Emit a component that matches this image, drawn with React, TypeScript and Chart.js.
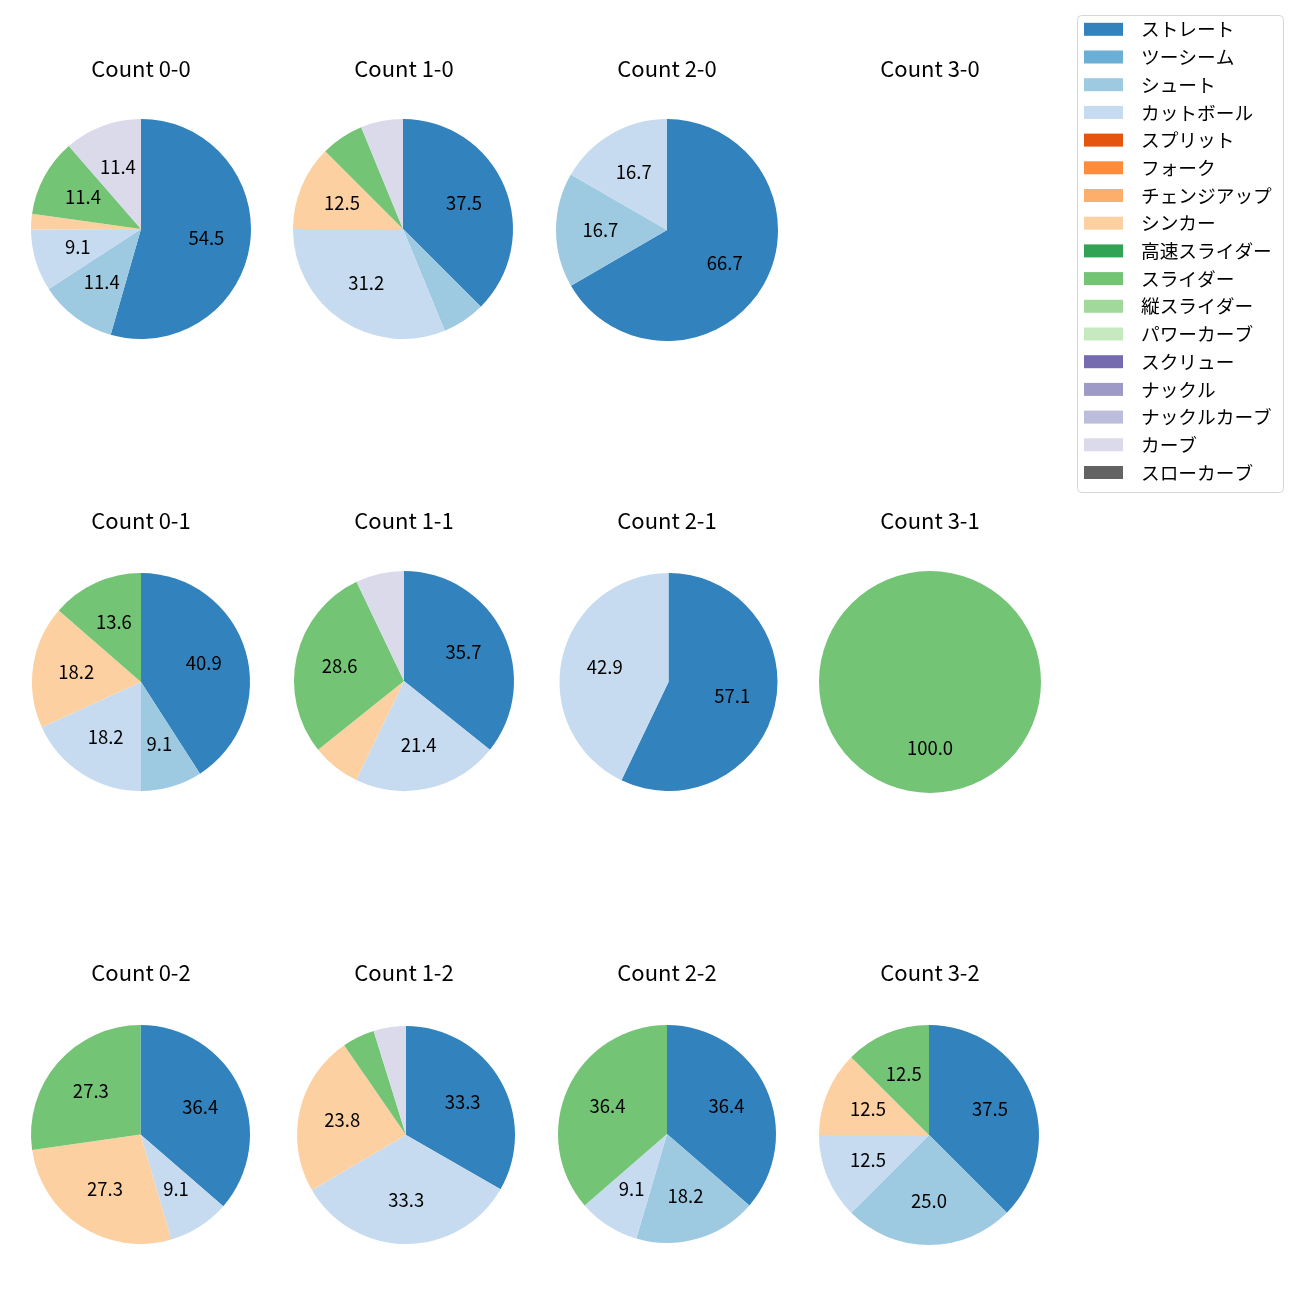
import React, { useEffect, useRef } from "react";
import { Chart, registerables } from "chart.js";

Chart.register(...registerables);

const pitchTypes = [
  "ストレート", "ツーシーム", "シュート", "カットボール", "スプリット", "フォーク",
  "チェンジアップ", "シンカー", "高速スライダー", "スライダー", "縦スライダー",
  "パワーカーブ", "スクリュー", "ナックル", "ナックルカーブ", "カーブ", "スローカーブ",
];
const pitchColors = [
  "#3182bd", "#6baed6", "#9ecae1", "#c6dbef", "#e6550d", "#fd8d3c",
  "#fdae6b", "#fdd0a2", "#31a354", "#74c476", "#a1d99b",
  "#c7e9c0", "#756bb1", "#9e9ac8", "#bcbddc", "#dadaeb", "#636363",
];

// percentages per pitch type (same order as pitchTypes)
const count00 = [54.5, 0, 11.4, 9.1, 0, 0, 0, 2.3, 0, 11.4, 0, 0, 0, 0, 0, 11.4, 0];
const count10 = [37.5, 0, 6.3, 31.2, 0, 0, 0, 12.5, 0, 6.3, 0, 0, 0, 0, 0, 6.2, 0];
const count20 = [66.7, 0, 16.7, 16.7, 0, 0, 0, 0, 0, 0, 0, 0, 0, 0, 0, 0, 0];
const count30 = [0, 0, 0, 0, 0, 0, 0, 0, 0, 0, 0, 0, 0, 0, 0, 0, 0];
const count01 = [40.9, 0, 9.1, 18.2, 0, 0, 0, 18.2, 0, 13.6, 0, 0, 0, 0, 0, 0, 0];
const count11 = [35.7, 0, 0, 21.4, 0, 0, 0, 7.1, 0, 28.6, 0, 0, 0, 0, 0, 7.1, 0];
const count21 = [57.1, 0, 0, 42.9, 0, 0, 0, 0, 0, 0, 0, 0, 0, 0, 0, 0, 0];
const count31 = [0, 0, 0, 0, 0, 0, 0, 0, 0, 100.0, 0, 0, 0, 0, 0, 0, 0];
const count02 = [36.4, 0, 0, 9.1, 0, 0, 0, 27.3, 0, 27.3, 0, 0, 0, 0, 0, 0, 0];
const count12 = [33.3, 0, 0, 33.3, 0, 0, 0, 23.8, 0, 4.8, 0, 0, 0, 0, 0, 4.8, 0];
const count22 = [36.4, 0, 18.2, 9.1, 0, 0, 0, 0, 0, 36.4, 0, 0, 0, 0, 0, 0, 0];
const count32 = [37.5, 0, 25.0, 12.5, 0, 0, 0, 12.5, 0, 12.5, 0, 0, 0, 0, 0, 0, 0];

const panelTitles = [
  "Count 0-0", "Count 1-0", "Count 2-0", "Count 3-0",
  "Count 0-1", "Count 1-1", "Count 2-1", "Count 3-1",
  "Count 0-2", "Count 1-2", "Count 2-2", "Count 3-2",
];
const panelValues = [
  count00, count10, count20, count30,
  count01, count11, count21, count31,
  count02, count12, count22, count32,
];

// layout (pixels)
const titleColX = [141, 404, 667, 930];
const titleRowY = [69, 521, 973];
const pieCx = [141, 403, 667, 930, 141, 404, 668.5, 930, 140.5, 406, 667, 929];
const pieCy = [229, 229, 230, 229, 682, 681, 682, 682, 1134.5, 1135, 1134, 1135];
const pieR = [110, 110, 111, 110, 109, 110, 109, 111, 109.5, 109, 109, 110];

const LABEL_MIN = 8;
const FONT = "'Noto Sans CJK JP', 'Noto Sans', sans-serif";
const CW = 262;
const CH = 320;
const TITLE_BLOCK = 60;

const panelTitlePlugin = {
  id: "panelTitle",
  afterDraw(chart: any, _args: any, opts: any) {
    const ctx = chart.ctx;
    ctx.save();
    ctx.font = `22px ${FONT}`;
    ctx.fillStyle = "#000";
    ctx.textAlign = "center";
    ctx.textBaseline = "middle";
    ctx.fillText(opts.text, chart.width / 2, 20);
    ctx.restore();
  },
};

const pctLabelPlugin = {
  id: "pctLabels",
  afterDatasetsDraw(chart: any) {
    const ctx = chart.ctx;
    const meta = chart.getDatasetMeta(0);
    const data = chart.data.datasets[0].data as number[];
    ctx.save();
    ctx.font = `18.5px ${FONT}`;
    ctx.fillStyle = "#000";
    ctx.textAlign = "center";
    ctx.textBaseline = "middle";
    meta.data.forEach((arc: any, i: number) => {
      const v = data[i];
      if (!v || v < LABEL_MIN) return;
      const p = arc.getProps(["x", "y", "startAngle", "endAngle", "outerRadius"], true);
      const mid = (p.startAngle + p.endAngle) / 2;
      const r = p.outerRadius * 0.6;
      ctx.fillText(v.toFixed(1), p.x + Math.cos(mid) * r, p.y + Math.sin(mid) * r - 0.5);
    });
    ctx.restore();
  },
};

const legendPlugin = {
  id: "boxLegend",
  afterDraw(chart: any) {
    const ctx = chart.ctx;
    ctx.save();
    const bx = 7.5, by = 7.5, bw = 206, bh = 477, rad = 4;
    ctx.beginPath();
    ctx.moveTo(bx + rad, by);
    ctx.lineTo(bx + bw - rad, by);
    ctx.arcTo(bx + bw, by, bx + bw, by + rad, rad);
    ctx.lineTo(bx + bw, by + bh - rad);
    ctx.arcTo(bx + bw, by + bh, bx + bw - rad, by + bh, rad);
    ctx.lineTo(bx + rad, by + bh);
    ctx.arcTo(bx, by + bh, bx, by + bh - rad, rad);
    ctx.lineTo(bx, by + rad);
    ctx.arcTo(bx, by, bx + rad, by, rad);
    ctx.closePath();
    ctx.fillStyle = "rgba(255,255,255,0.8)";
    ctx.fill();
    ctx.strokeStyle = "#d6d6d6";
    ctx.lineWidth = 1;
    ctx.stroke();
    ctx.font = `18.7px ${FONT}`;
    ctx.textAlign = "left";
    ctx.textBaseline = "middle";
    pitchTypes.forEach((name, i) => {
      const cy = 21.3 + i * 27.7;
      ctx.fillStyle = pitchColors[i];
      ctx.fillRect(14, cy - 6.5, 39, 13);
      ctx.fillStyle = "#000";
      ctx.fillText(name, 71, cy);
    });
    ctx.restore();
  },
};

export default function App() {
  const pieRefs = useRef<(HTMLCanvasElement | null)[]>([]);
  const legendRef = useRef<HTMLCanvasElement | null>(null);

  useEffect(() => {
    const charts: Chart[] = [];
    panelValues.forEach((vals, idx) => {
      const canvas = pieRefs.current[idx];
      if (!canvas) return;
      const tx = titleColX[idx % 4];
      const ty = titleRowY[Math.floor(idx / 4)];
      const left = tx - CW / 2;
      const canvasTop = ty - 20;
      const chartTop = canvasTop + TITLE_BLOCK;
      const cx = pieCx[idx], cy = pieCy[idx], r = pieR[idx];
      const padLeft = cx - r - left;
      const padRight = CW - padLeft - 2 * r;
      const h = 2 * (cy - chartTop);
      const padBottom = CH - TITLE_BLOCK - h;
      const c = new Chart(canvas, {
        type: "pie",
        data: {
          labels: pitchTypes,
          datasets: [
            {
              data: vals,
              backgroundColor: pitchColors,
              borderWidth: 0,
              hoverOffset: 0,
              offset: 0,
            } as any,
          ],
        },
        options: {
          responsive: false,
          animation: false,
          events: [],
          layout: { padding: { top: TITLE_BLOCK, bottom: padBottom, left: padLeft, right: padRight } },
          plugins: {
            legend: { display: false },
            tooltip: { enabled: false },
            title: { display: false },
            panelTitle: { text: panelTitles[idx] },
          },
        } as any,
        plugins: [pctLabelPlugin, panelTitlePlugin],
      });
      charts.push(c);
    });
    if (legendRef.current) {
      const lc = new Chart(legendRef.current, {
        type: "pie",
        data: { labels: [], datasets: [{ data: [] }] },
        options: {
          responsive: false,
          animation: false,
          events: [],
          plugins: { legend: { display: false }, tooltip: { enabled: false } },
        } as any,
        plugins: [legendPlugin],
      });
      charts.push(lc);
    }
    return () => charts.forEach((c) => c.destroy());
  }, []);

  return (
    <div style={{ position: "absolute", left: 0, top: 0, width: 1300, height: 1300, background: "#fff" }}>
      {panelValues.map((_, idx) => {
        const tx = titleColX[idx % 4];
        const ty = titleRowY[Math.floor(idx / 4)];
        return (
          <canvas
            key={idx}
            ref={(el) => { pieRefs.current[idx] = el; }}
            width={CW}
            height={CH}
            style={{ position: "absolute", left: tx - CW / 2, top: ty - 20, width: CW, height: CH }}
          />
        );
      })}
      <canvas
        ref={legendRef}
        width={220}
        height={492}
        style={{ position: "absolute", left: 1070, top: 8, width: 220, height: 492 }}
      />
    </div>
  );
}
